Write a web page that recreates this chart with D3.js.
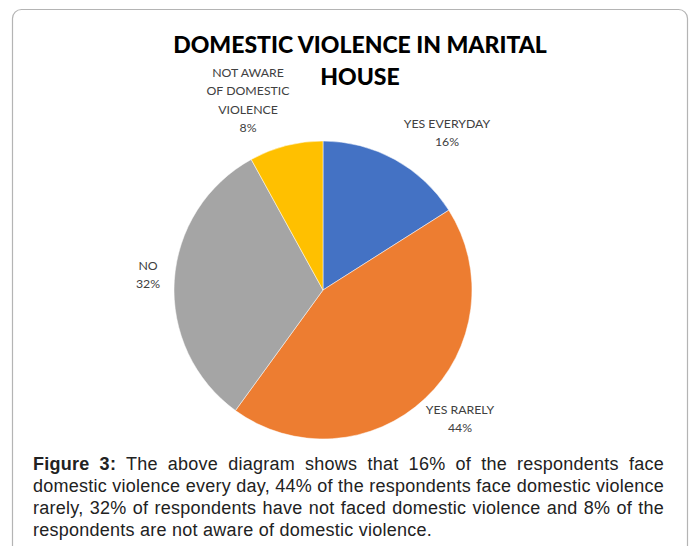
<!DOCTYPE html>
<html><head><meta charset="utf-8">
<script src="https://cdn.jsdelivr.net/npm/d3@7"></script>
<style>
body{margin:0;background:#fff;}
#cap{position:absolute;left:33px;top:453px;width:631px;font-family:"Liberation Sans",Arial,sans-serif;font-size:18px;letter-spacing:0.25px;line-height:22px;color:#222;}
#cap div{text-align:justify;text-align-last:justify;white-space:nowrap;}
#cap div.last{text-align-last:left;}
</style></head>
<body>
<svg id="chart" width="696" height="546" style="position:absolute;left:0;top:0"></svg>
<div id="cap"></div>
<script>
const categories = ["YES EVERYDAY", "YES RARELY", "NO", "NOT AWARE OF DOMESTIC VIOLENCE"];
const values = [16, 44, 32, 8];
const colors = ["#4472C4", "#ED7D31", "#A5A5A5", "#FFC000"];
const labelLines = [["YES EVERYDAY","16%"],["YES RARELY","44%"],["NO","32%"],["NOT AWARE","OF DOMESTIC","VIOLENCE","8%"]];
const labelPos = [[447,128],[460,414],[148,270],[248,77]];
const titleLines = ["DOMESTIC VIOLENCE IN MARITAL","HOUSE"];
const captionLines = [
  ["Figure 3:", " The above diagram shows that 16% of the respondents face"],
  ["", "domestic violence every day, 44% of the respondents face domestic violence"],
  ["", "rarely, 32% of respondents have not faced domestic violence and 8% of the"],
  ["", "respondents are not aware of domestic violence."]
];

const svg = d3.select("#chart");
svg.append("rect").attr("x",12.5).attr("y",9.5).attr("width",675).attr("height",560)
  .attr("rx",9).attr("fill","#fff").attr("stroke","#b4b4b4").attr("stroke-width",1.2);

const cx = 323, cy = 290, r = 149;
const pie = d3.pie().sort(null).value(d=>d)(values);
const arc = d3.arc().innerRadius(0).outerRadius(r);
const g = svg.append("g").attr("transform",`translate(${cx},${cy})`);
g.selectAll("path").data(pie).enter().append("path")
  .attr("d",arc).attr("fill",(d,i)=>colors[i]).attr("stroke","#fff").attr("stroke-width",0.5);

const title = svg.append("text").attr("font-family","Lato, 'Open Sans', sans-serif")
  .attr("font-weight","900").attr("font-size",23).attr("fill","#000").attr("text-anchor","middle")
  .attr("textLength",null);
titleLines.forEach((t,i)=>title.append("tspan").attr("x",360).attr("y",53+i*32).text(t));

labelLines.forEach((lines,i)=>{
  const t = svg.append("text").attr("font-family","Lato, 'Open Sans', sans-serif")
    .attr("font-size",12.3).attr("fill","#404040").attr("text-anchor","middle");
  lines.forEach((l,j)=>t.append("tspan").attr("x",labelPos[i][0]).attr("y",labelPos[i][1]+j*18.3).text(l));
});

const cap = d3.select("#cap");
captionLines.forEach((ln,i)=>{
  const d = cap.append("div").attr("class", i===captionLines.length-1?"last":null);
  if(ln[0]) d.append("b").text(ln[0]);
  d.append("span").text(ln[1]);
});
</script>
</body></html>
